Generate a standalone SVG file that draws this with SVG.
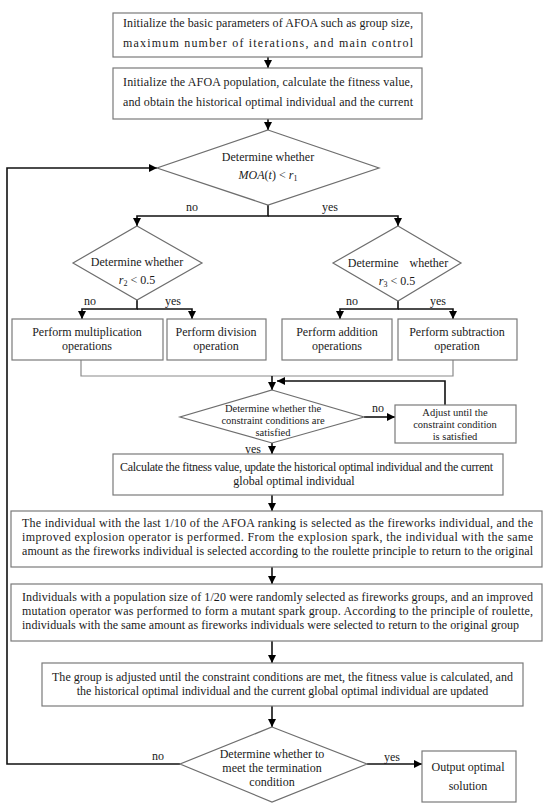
<svg xmlns="http://www.w3.org/2000/svg" width="550" height="808" viewBox="0 0 550 808">
<style>
text{font-family:"Liberation Serif","Times New Roman",serif;font-size:12px;fill:#1a1a1a}
.c{text-anchor:middle}
.s{font-size:10.5px}
.box{fill:#fff;stroke:#7a7a7a;stroke-width:1.2}
.dia{fill:#fff;stroke:#6e6e6e;stroke-width:1.2}
.ln{fill:none;stroke:#111;stroke-width:1.6}
.thin{fill:none;stroke:#8a8a8a;stroke-width:1.2}
.arr{marker-end:url(#ah)}
.i{font-style:italic}
</style>
<defs>
<marker id="ah" viewBox="0 0 10 10" refX="10" refY="5" markerWidth="8" markerHeight="8" markerUnits="userSpaceOnUse" orient="auto">
<path d="M0,0 L10,5 L0,10 z" fill="#000"/>
</marker>
</defs>
<rect width="550" height="808" fill="#fff"/>

<g id="connectors">
<path class="ln arr" d="M268,57 V68"/>
<path class="ln arr" d="M268,119 V130"/>
<path class="ln arr" d="M268,205 V216 H137 V226"/>
<path class="ln arr" d="M268,216 H398 V226"/>
<path class="ln arr" d="M137,300 V309 H82 V319"/>
<path class="ln arr" d="M137,309 H192 V319"/>
<path class="ln arr" d="M398,301 V309 H340 V319"/>
<path class="ln arr" d="M398,309 H453 V319"/>
<path class="thin" d="M81,360 V376 H453 V360"/>
<path class="ln arr" d="M272,376 V390"/>
<path class="ln arr" d="M364,417 H395"/>
<path class="ln arr" d="M445,405 V381 H277"/>
<path class="ln arr" d="M272,443 V454"/>
<path class="ln arr" d="M272,495 V511"/>
<path class="ln arr" d="M272,567 V584"/>
<path class="ln arr" d="M272,641 V663"/>
<path class="ln arr" d="M272,706 V727"/>
<path class="ln arr" d="M367,764 H422"/>
<path class="ln arr" d="M180,764 H7 V168 H157"/>
<text class="c" x="192" y="211">no</text>
<text class="c" x="330" y="211">yes</text>
<text class="c" x="90" y="305">no</text>
<text class="c" x="173" y="305">yes</text>
<text class="c" x="352" y="305">no</text>
<text class="c" x="438" y="305">yes</text>
<text class="c" x="378" y="412">no</text>
<text class="c" x="253" y="453">yes</text>
<text class="c" x="158" y="760">no</text>
<text class="c" x="392" y="761">yes</text>
</g>

<g id="init-params">
<rect class="box" x="113" y="13" width="309" height="44"/>
<text x="123" y="27" textLength="290" lengthAdjust="spacing">Initialize the basic parameters of AFOA such as group size,</text>
<text x="123" y="47" textLength="290" lengthAdjust="spacing">maximum number of iterations, and main control</text>
</g>

<g id="init-population">
<rect class="box" x="113" y="68" width="309" height="51"/>
<text x="123" y="86" textLength="290" lengthAdjust="spacing">Initialize the AFOA population, calculate the fitness value,</text>
<text x="123" y="106" textLength="290" lengthAdjust="spacing">and obtain the historical optimal individual and the current</text>
</g>

<g id="decision-moa">
<polygon class="dia" points="268,130 379,168 268,205 157,168"/>
<text class="c" x="268" y="161">Determine whether</text>
<text class="c" x="268" y="179"><tspan class="i">MOA</tspan>(<tspan class="i">t</tspan>) &lt; <tspan class="i">r</tspan><tspan font-size="8" dy="2">1</tspan></text>
</g>

<g id="decision-r2">
<polygon class="dia" points="137,226 202,263 137,300 73,263"/>
<text class="c" x="137" y="266">Determine whether</text>
<text class="c" x="137" y="284"><tspan class="i">r</tspan><tspan font-size="8" dy="2">2</tspan><tspan dy="-2"> &lt; 0.5</tspan></text>
</g>

<g id="decision-r3">
<polygon class="dia" points="398,226 461,263 398,301 333,263"/>
<text class="c" x="398" y="267" word-spacing="8">Determine whether</text>
<text class="c" x="397" y="285"><tspan class="i">r</tspan><tspan font-size="8" dy="2">3</tspan><tspan dy="-2"> &lt; 0.5</tspan></text>
</g>

<g id="multiplication">
<rect class="box" x="12" y="319" width="151" height="41"/>
<text class="c" x="87" y="336">Perform multiplication</text>
<text class="c" x="87" y="350">operations</text>
</g>

<g id="division">
<rect class="box" x="167" y="319" width="99" height="41"/>
<text class="c" x="216" y="336">Perform division</text>
<text class="c" x="216" y="350">operation</text>
</g>

<g id="addition">
<rect class="box" x="282" y="319" width="110" height="41"/>
<text class="c" x="337" y="336">Perform addition</text>
<text class="c" x="337" y="350">operations</text>
</g>

<g id="subtraction">
<rect class="box" x="398" y="319" width="119" height="41"/>
<text class="c" x="457" y="336">Perform subtraction</text>
<text class="c" x="457" y="350">operation</text>
</g>

<g id="decision-constraint">
<polygon class="dia" points="272,390 364,417 272,443 180,417"/>
<text class="c s" x="273" y="412">Determine whether the</text>
<text class="c s" x="273" y="424">constraint conditions are</text>
<text class="c s" x="273" y="436">satisfied</text>
</g>

<g id="adjust">
<rect class="box" x="395" y="405" width="121" height="38"/>
<text class="c s" x="455" y="416">Adjust until the</text>
<text class="c s" x="455" y="428">constraint condition</text>
<text class="c s" x="455" y="440">is satisfied</text>
</g>

<g id="calc-fitness">
<rect class="box" x="113" y="454" width="390" height="41"/>
<text class="c" x="306.5" y="471" textLength="373" lengthAdjust="spacing">Calculate the fitness value, update the historical optimal individual and the current</text>
<text class="c" x="294" y="485">global optimal individual</text>
</g>

<g id="explosion">
<rect class="box" x="11" y="511" width="531" height="56"/>
<text x="22" y="527" textLength="511" lengthAdjust="spacing">The individual with the last 1/10 of the AFOA ranking is selected as the fireworks individual, and the</text>
<text x="22" y="541" textLength="511" lengthAdjust="spacing">improved explosion operator is performed. From the explosion spark, the individual with the same</text>
<text x="22" y="555" textLength="511" lengthAdjust="spacing">amount as the fireworks individual is selected according to the roulette principle to return to the original</text>
</g>

<g id="mutation">
<rect class="box" x="11" y="584" width="531" height="57"/>
<text x="22" y="601" textLength="511" lengthAdjust="spacing">Individuals with a population size of 1/20 were randomly selected as fireworks groups, and an improved</text>
<text x="22" y="615" textLength="511" lengthAdjust="spacing">mutation operator was performed to form a mutant spark group. According to the principle of roulette,</text>
<text x="22" y="629" textLength="497" lengthAdjust="spacing">individuals with the same amount as fireworks individuals were selected to return to the original group</text>
</g>

<g id="group-adjust">
<rect class="box" x="42" y="663" width="481" height="43"/>
<text class="c" x="282.5" y="681" textLength="461" lengthAdjust="spacing">The group is adjusted until the constraint conditions are met, the fitness value is calculated, and</text>
<text class="c" x="282.5" y="695">the historical optimal individual and the current global optimal individual are updated</text>
</g>

<g id="decision-termination">
<polygon class="dia" points="272,727 367,764 272,802 180,764"/>
<text class="c" x="272" y="758">Determine whether to</text>
<text class="c" x="272" y="772">meet the termination</text>
<text class="c" x="272" y="786">condition</text>
</g>

<g id="output">
<rect class="box" x="422" y="751" width="94" height="51"/>
<text class="c" x="468" y="771">Output optimal</text>
<text class="c" x="468" y="790">solution</text>
</g>
</svg>
